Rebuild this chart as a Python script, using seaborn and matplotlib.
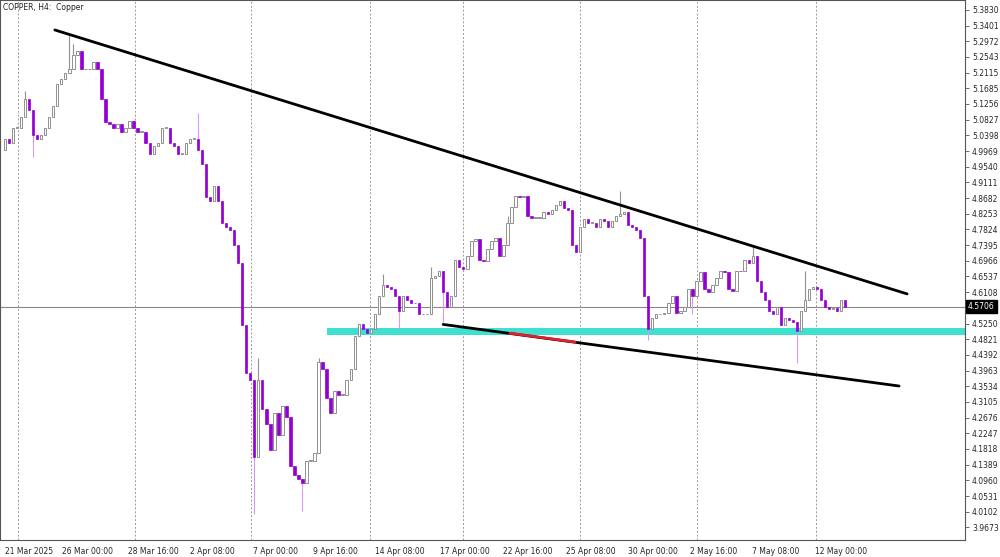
import numpy as np
import pandas as pd
import matplotlib
matplotlib.use("Agg")
import matplotlib.pyplot as plt
import seaborn as sns

sns.set_style("white")
plt.rcParams['font.family'] = ['DejaVu Sans']

# closes, one per bar
closes = [5.03, 5.02, 5.06, 5.06, 5.09, 5.14, 5.11, 5.04, 5.03, 5.04, 5.06, 5.09, 5.12, 5.18, 5.195, 5.21,
          5.22, 5.26, 5.27, 5.22, 5.22, 5.22, 5.24, 5.22, 5.14, 5.075,
          5.07, 5.06, 5.07, 5.05, 5.06, 5.08, 5.06, 5.05,
          5.05, 5.02, 4.99, 5.01, 5.02, 5.06, 5.06, 5.02, 5.01, 4.99, 4.99, 5.02, 5.03, 5.03, 5.00,
          4.96, 4.87, 4.86, 4.90, 4.86, 4.80, 4.79, 4.78, 4.74, 4.69, 4.52, 4.39, 4.37, 4.16, 4.37, 4.29, 4.25, 4.18, 4.28,
          4.22, 4.30, 4.27, 4.135, 4.11, 4.10, 4.09, 4.15, 4.15, 4.17, 4.42, 4.40, 4.32, 4.28, 4.34, 4.33, 4.33, 4.37,
          4.40, 4.49, 4.525, 4.51, 4.50, 4.51, 4.55, 4.60, 4.63, 4.625, 4.62, 4.60, 4.56, 4.60, 4.59, 4.58, 4.58,
          4.55, 4.55, 4.55, 4.65, 4.655, 4.67, 4.61, 4.57, 4.60, 4.70, 4.68, 4.675, 4.71, 4.75, 4.755, 4.70, 4.695,
          4.73, 4.75, 4.76, 4.71, 4.74, 4.80, 4.845, 4.875, 4.87, 4.875, 4.82, 4.815, 4.815, 4.815, 4.83, 4.825,
          4.835, 4.85, 4.86, 4.84, 4.835, 4.74, 4.72,
          4.79, 4.81, 4.80, 4.80, 4.79, 4.81, 4.805, 4.79, 4.805, 4.82, 4.825, 4.83, 4.795, 4.79, 4.78, 4.76,
          4.60, 4.51, 4.54, 4.55, 4.552, 4.555, 4.58, 4.60, 4.555, 4.56, 4.57, 4.62, 4.60, 4.64, 4.665, 4.62,
          4.61, 4.63, 4.65, 4.67, 4.665, 4.62, 4.615, 4.67, 4.668, 4.70, 4.69, 4.71, 4.64, 4.61, 4.59, 4.56,
          4.55, 4.57, 4.52, 4.54, 4.535, 4.53, 4.505, 4.56, 4.59, 4.62, 4.625, 4.62, 4.59, 4.57, 4.565, 4.568,
          4.56, 4.59, 4.5706]
first_open = 5.00
# notable wick extremes (bar index -> price)
wick_highs = {5: 5.16, 16: 5.32, 17: 5.29, 48: 5.10, 63: 4.43, 78: 4.43, 94: 4.66, 106: 4.68,
              125: 4.82, 153: 4.887, 186: 4.74, 199: 4.67}
wick_lows = {7: 4.98, 62: 4.003, 74: 4.013, 98: 4.51, 109: 4.53, 160: 4.48, 171: 4.55, 197: 4.418}

yticks = [5.3830, 5.3401, 5.2972, 5.2543, 5.2115, 5.1685, 5.1256, 5.0827, 5.0398, 4.9969, 4.9540,
          4.9111, 4.8682, 4.8253, 4.7824, 4.7395, 4.6966, 4.6537, 4.6108, 4.5679, 4.5250, 4.4821,
          4.4392, 4.3963, 4.3534, 4.3105, 4.2676, 4.2247, 4.1818, 4.1389, 4.0960, 4.0531, 4.0102, 3.9673]
date_labels = ['21 Mar 2025', '26 Mar 00:00', '28 Mar 16:00', '2 Apr 08:00', '7 Apr 00:00',
               '9 Apr 16:00', '14 Apr 08:00', '17 Apr 00:00', '22 Apr 16:00', '25 Apr 08:00',
               '30 Apr 00:00', '2 May 16:00', '7 May 08:00', '12 May 00:00']
date_bars = [0, 14.2, 30.6, 46.0, 61.7, 76.6, 92.0, 108.2, 123.9, 139.6, 155.0, 170.4, 185.8, 201.5]
grid_bars = [3.2, 32.3, 61.2, 90.8, 113.9, 143.0, 172.1, 201.7]
last_price = 4.5706

# trend lines and support zone
upper_line = pd.DataFrame({'bar': [12.4, 224.4], 'price': [5.328, 4.606]})
lower_line = pd.DataFrame({'bar': [109.0, 222.4], 'price': [4.5225, 4.354]})
red_part = pd.DataFrame({'bar': [125.6, 141.8], 'price': [4.4985, 4.4745]})
zone_start, zone_low, zone_high = 80.1, 4.493, 4.512

df = pd.DataFrame({'close': closes})
df['open'] = [first_open] + closes[:-1]
df['bar'] = np.arange(len(df))
df['high'] = df[['open', 'close']].max(axis=1)
df['low'] = df[['open', 'close']].min(axis=1)
for k, v in wick_highs.items():
    df.loc[k, 'high'] = v
for k, v in wick_lows.items():
    df.loc[k, 'low'] = v

fig = plt.figure(figsize=(10, 5.57), dpi=100)
ax = fig.add_axes([0.0, 0.03, 0.965, 0.97])

for b in grid_bars:
    ax.axvline(b, color='#999999', lw=0.7, ls=(0, (2, 2)), zorder=0)

ax.fill_between([zone_start, 260], zone_low, zone_high, color='#40e0d0', zorder=1, lw=0)
ax.axhline(last_price, color='#888888', lw=0.8, zorder=1)

bull = df[df['close'] >= df['open']]
bear = df[df['close'] < df['open']]
ax.vlines(bull['bar'], bull['low'], bull['high'], color='#909090', lw=0.8, zorder=2)
ax.vlines(bear['bar'], bear['low'], bear['high'], color='#d79af0', lw=0.8, zorder=2)
ax.bar(bull['bar'], (bull['close'] - bull['open']).clip(lower=0.002), bottom=bull['open'],
       width=0.6, color='white', edgecolor='#909090', lw=0.7, zorder=3)
ax.bar(bear['bar'], (bear['open'] - bear['close']).clip(lower=0.002), bottom=bear['close'],
       width=0.6, color='#9400d3', edgecolor='#9400d3', lw=0.5, zorder=3)

sns.lineplot(data=upper_line, x='bar', y='price', color='black', lw=2, ax=ax, zorder=4)
sns.lineplot(data=lower_line, x='bar', y='price', color='black', lw=2, ax=ax, zorder=4)
sns.lineplot(data=red_part, x='bar', y='price', color='#e0202a', lw=2, ax=ax, zorder=5)

ax.set_xlim(-1.24, 238.8)
ax.set_ylim(3.932, 5.41)
ax.yaxis.tick_right()
ax.set_yticks(yticks)
ax.set_yticklabels([f'{v:.4f}' for v in yticks], fontsize=5.5)
ax.set_xticks(date_bars)
ax.set_xticklabels(date_labels, fontsize=5.5, ha='left')
ax.tick_params(axis='both', length=3, width=0.6, pad=2, color='#555555')
ax.set_xlabel('')
ax.set_ylabel('')
for s in ax.spines.values():
    s.set_color('#555555')
    s.set_linewidth(0.8)

ax.text(1.003, last_price, f'{last_price:.4f}', transform=ax.get_yaxis_transform(),
        fontsize=5.5, color='white', va='center', ha='left', zorder=10,
        bbox=dict(boxstyle='square,pad=0.25', fc='black', ec='black'))
ax.text(0.003, 0.995, 'COPPER, H4:  Copper', transform=ax.transAxes, fontsize=5.5,
        va='top', ha='left', color='#222222')

fig.savefig('out.png', dpi=100)
